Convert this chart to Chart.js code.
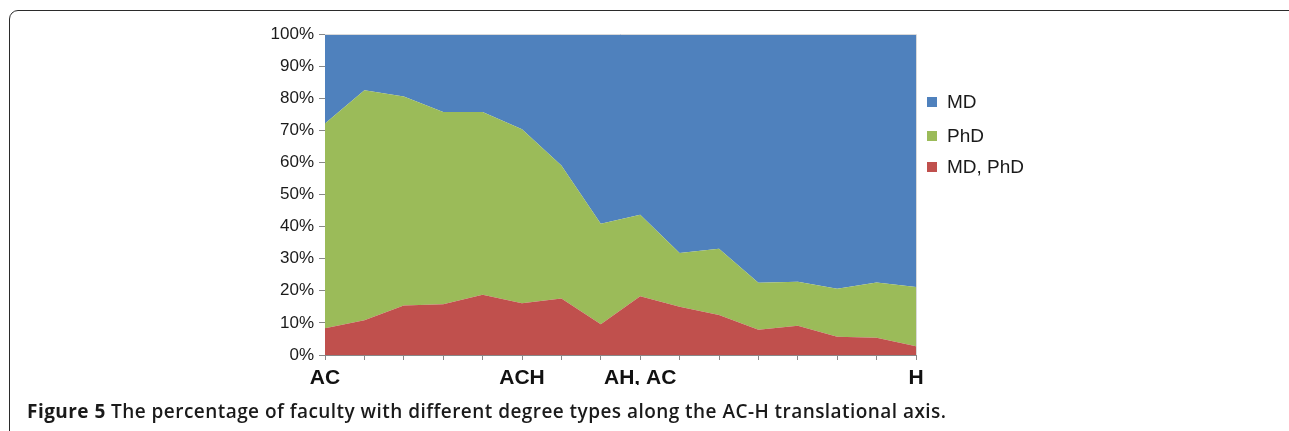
<!DOCTYPE html>
<html>
<head>
<meta charset="utf-8">
<script src="https://cdn.jsdelivr.net/npm/chart.js@4"></script>
<style>
  body { margin: 0; background: #fff; width: 1289px; height: 431px; overflow: hidden; position: relative; font-family: "Liberation Sans", Arial, sans-serif; }
  #frame { position: absolute; left: 9px; top: 10px; width: 1290px; height: 440px; border: 1.5px solid #2b2b2b; border-radius: 9px; box-sizing: border-box; }
  #wrap { position: absolute; left: 0; top: 0; width: 1289px; height: 431px; }
  .leg { position: absolute; left: 927px; font-size: 19px; color: #1a1a1a; line-height: 20px; }
  .leg span { display: inline-block; width: 10px; height: 10px; margin-right: 10px; vertical-align: 1px; }
  #caption { position: absolute; left: 27px; top: 398px; font-family: "Open Sans", sans-serif; font-size: 19px; letter-spacing: 0.45px; font-weight: 600; color: #1a1a1a; white-space: nowrap; }
  #caption b { font-weight: 700; }
</style>
</head>
<body>
<div id="frame"></div>
<div id="wrap"><canvas id="myChart" width="1289" height="431"></canvas></div>
<div class="leg" style="top:92px"><span style="background:#4F81BD"></span>MD</div>
<div class="leg" style="top:126px"><span style="background:#9BBB59"></span>PhD</div>
<div class="leg" style="top:157px"><span style="background:#C0504D"></span>MD, PhD</div>
<div id="caption"><b>Figure 5</b> The percentage of faculty with different degree types along the AC-H translational axis.</div>
<script>
// positions along the AC-H axis (only a few are labelled)
var labels = ['AC', '', '', '', '', 'ACH', '', '', 'AH, AC', '', '', '', '', '', '', 'H'];
// percentages per degree type
var mdPhd = [8.3, 10.8, 15.4, 15.8, 18.8, 16.1, 17.6, 9.6, 18.3, 15.0, 12.5, 7.9, 9.1, 5.7, 5.4, 2.7];
var phd   = [63.8, 71.7, 65.1, 59.9, 56.9, 54.2, 41.4, 31.3, 25.4, 16.8, 20.6, 14.6, 13.7, 14.9, 17.2, 18.5];
var md    = [27.9, 17.5, 19.5, 24.3, 24.3, 29.7, 41.0, 59.1, 56.3, 68.2, 66.9, 77.5, 77.2, 79.4, 77.4, 78.8];

var plotBorder = {
  id: 'plotBorder',
  afterDatasetsDraw: function(chart) {
    var a = chart.chartArea, c = chart.ctx;
    c.save();
    c.strokeStyle = '#d9d9d9';
    c.lineWidth = 1;
    c.beginPath();
    c.moveTo(a.left, a.top + 0.5);
    c.lineTo(a.right + 0.5, a.top + 0.5);
    c.lineTo(a.right + 0.5, a.bottom);
    c.stroke();
    c.restore();
  }
};

var ctx = document.getElementById('myChart').getContext('2d');
var myChart = new Chart(ctx, {
  type: 'line',
  data: {
    labels: labels,
    datasets: [{
        label: 'MD, PhD',
        data: mdPhd,
        backgroundColor: '#C0504D',
        borderColor: '#C0504D',
        borderWidth: 0,
        pointRadius: 0,
        fill: 'origin'
      }, {
        label: 'PhD',
        data: phd,
        backgroundColor: '#9BBB59',
        borderColor: '#9BBB59',
        borderWidth: 0,
        pointRadius: 0,
        fill: '-1'
      }, {
        label: 'MD',
        data: md,
        backgroundColor: '#4F81BD',
        borderColor: '#4F81BD',
        borderWidth: 0,
        pointRadius: 0,
        fill: '-1'
      }
    ]
  },
  options: {
    responsive: false,
    animation: false,
    layout: { padding: { left: 255, right: 373, top: 34, bottom: 46 } },
    plugins: {
      legend: { display: false },
      tooltip: { enabled: false }
    },
    scales: {
      x: {
        offset: false,
        afterFit: function(s) { s.height = 30; },
        grid: { display: true, drawOnChartArea: false, tickLength: 5, color: '#888' },
        border: { color: '#888' },
        ticks: {
          autoSkip: false, maxRotation: 0, padding: 6,
          color: '#111',
          font: { family: 'Liberation Sans', size: 21, weight: 'bold' }
        }
      },
      y: {
        stacked: true,
        min: 0, max: 100,
        afterFit: function(s) { s.width = 70; },
        grid: { display: true, drawOnChartArea: false, tickLength: 6, color: '#888' },
        border: { color: '#888' },
        ticks: {
          stepSize: 10, padding: 5,
          color: '#1a1a1a',
          font: { family: 'Liberation Sans', size: 17 },
          callback: function(v) { return v + '%'; }
        }
      }
    }
  },
  plugins: [plotBorder]
});
</script>
</body>
</html>
